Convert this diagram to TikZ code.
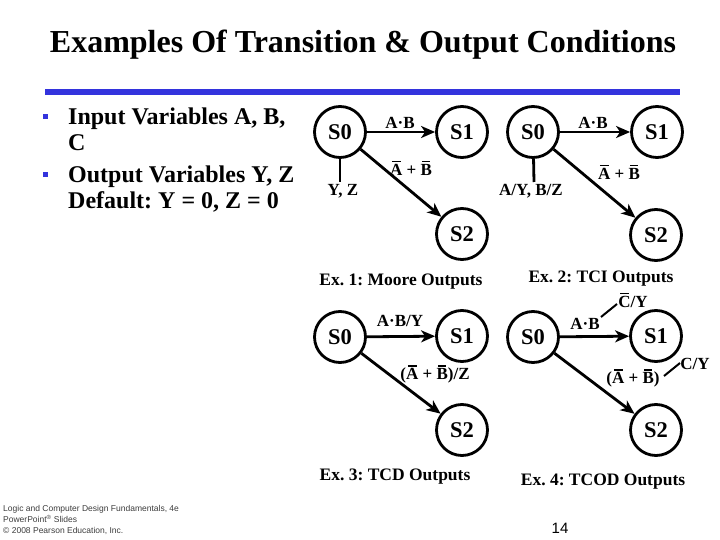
\documentclass[tikz,border=0pt]{standalone}
\usepackage{fontspec}
\setmainfont{Liberation Serif}
\newfontfamily\footfont{Liberation Sans}
\usetikzlibrary{positioning,arrows.meta}
\definecolor{slideblue}{RGB}{51,51,221}
\definecolor{footgray}{RGB}{60,60,60}
\frenchspacing
% letter with a bar over it
\newcommand{\nt}[1]{\setbox0\hbox{#1}\rlap{\hbox to\wd0{\hss\raisebox{\dimexpr\ht0+1.6pt\relax}{\rule{0.7\wd0}{1.6pt}}\hss}}#1}

\tikzset{
  stnode/.style={circle, draw, line width=2.8pt, minimum size=51pt, inner sep=0pt,
    font=\fontsize{22.5}{22.5}\selectfont\bfseries},
  trans/.style={line width=2.8pt, -{Stealth[length=14pt,width=12pt,inset=4pt]}},
  outline/.style={line width=2.8pt},
  lbl/.style={font=\fontsize{17}{17}\selectfont\bfseries, inner sep=0pt},
  extitle/.style={font=\fontsize{17.5}{17.5}\selectfont\bfseries, inner sep=0pt},
  bodytext/.style={anchor=base west, inner sep=0pt, font=\fontsize{24}{24}\selectfont\bfseries},
  footnode/.style={anchor=base west, inner sep=0pt, text=footgray, font=\footfont\fontsize{8.5}{8.5}\selectfont}
}

\begin{document}
\begin{tikzpicture}[x=1pt, y=-1pt]
  \useasboundingbox (0,0) rectangle (720,540);

  % Title and rule
  \node[anchor=base, inner sep=0pt, font=\fontsize{32}{32}\selectfont\bfseries] (title) at (363,53)
    {Examples Of Transition \& Output Conditions};
  \fill[slideblue] (45,89) rectangle (680,95);

  % Bullets
  \fill[slideblue] (42.5,114.5) rectangle (47.5,119.5);
  \node[bodytext] (b1) at (68,125) {Input Variables A, B,};
  \node[bodytext] (b1c) at (68,151) {C};
  \fill[slideblue] (42.5,172.5) rectangle (47.5,177.5);
  \node[bodytext] (b2) at (68,183) {Output Variables Y, Z};
  \node[bodytext] (b2d) at (68,209) {Default: Y = 0, Z = 0};

  % Ex. 1: Moore outputs
  \node[stnode] (a0) at (340,132) {S0};
  \node[stnode] (a1) at (462,132) {S1};
  \node[stnode] (a2) at (462,234) {S2};
  \draw[trans] (a0) -- (a1);
  \draw[trans] (a0) -- (a2);
  \node[lbl] (a01) at (400,123) {A·B};
  \node[lbl] (a02) at (411,168) {\nt{A} + \nt{B}};
  \coordinate (aout) at (340,182);
  \draw[outline] (a0) -- (aout);
  \node[lbl] (ayz) at (343,191) {Y, Z};
  \node[extitle] (ex1) at (401,282) {Ex. 1: Moore Outputs};

  % Ex. 2: TCI outputs
  \node[stnode] (b0) at (533,132) {S0};
  \node[stnode] (b1s) at (657,132) {S1};
  \node[stnode] (b2s) at (656,235) {S2};
  \draw[trans] (b0) -- (b1s);
  \draw[trans] (b0) -- (b2s);
  \node[lbl] (b01) at (593,123) {A·B};
  \node[lbl] (b02) at (619,172) {\nt{A} + \nt{B}};
  \coordinate (bout) at (534,182);
  \draw[outline] (b0) -- (bout);
  \node[lbl] (byz) at (531,191) {A/Y, B/Z};
  \node[extitle] (ex2) at (601,279) {Ex. 2: TCI Outputs};

  % Ex. 3: TCD outputs
  \node[stnode] (c0) at (340,337) {S0};
  \node[stnode] (c1) at (462,336) {S1};
  \node[stnode] (c2) at (462,430) {S2};
  \draw[trans] (c0) -- (c1);
  \draw[trans] (c0) -- (c2);
  \node[lbl] (c01) at (400,321) {A·B/Y};
  \node[lbl] (c02) at (435,374) {(\nt{A} + \nt{B})/Z};
  \node[extitle] (ex3) at (395,477) {Ex. 3: TCD Outputs};

  % Ex. 4: TCOD outputs
  \node[stnode] (d0) at (533,337) {S0};
  \node[stnode] (d1) at (656,336) {S1};
  \node[stnode] (d2) at (656,430) {S2};
  \draw[trans] (d0) -- (d1);
  \draw[trans] (d0) -- (d2);
  \node[lbl] (d01) at (585,324) {A·B};
  \node[lbl] (d01o) at (633,300) {\nt{C}/Y};
  \coordinate (d01a) at (601,317);
  \coordinate (d01b) at (617,304);
  \draw[line width=2pt] (d01a) -- (d01b);
  \node[lbl] (d02) at (633,378) {(\nt{A} + \nt{B})};
  \node[lbl] (d02o) at (695,364) {C/Y};
  \coordinate (d02a) at (664,376);
  \coordinate (d02b) at (680,363);
  \draw[line width=2pt] (d02a) -- (d02b);
  \node[extitle] (ex4) at (603,482) {Ex. 4: TCOD Outputs};

  % Footer
  \node[footnode] (f1) at (3,511) {Logic and Computer Design Fundamentals, 4e};
  \node[footnode] (f2) at (3,522) {PowerPoint\textsuperscript{\textregistered} Slides};
  \node[footnode] (f3) at (3,533) {\textcopyright{} 2008 Pearson Education, Inc.};
  \node[anchor=base, inner sep=0pt, font=\footfont\fontsize{15}{15}\selectfont] (pg) at (560,533) {14};
\end{tikzpicture}
\end{document}
